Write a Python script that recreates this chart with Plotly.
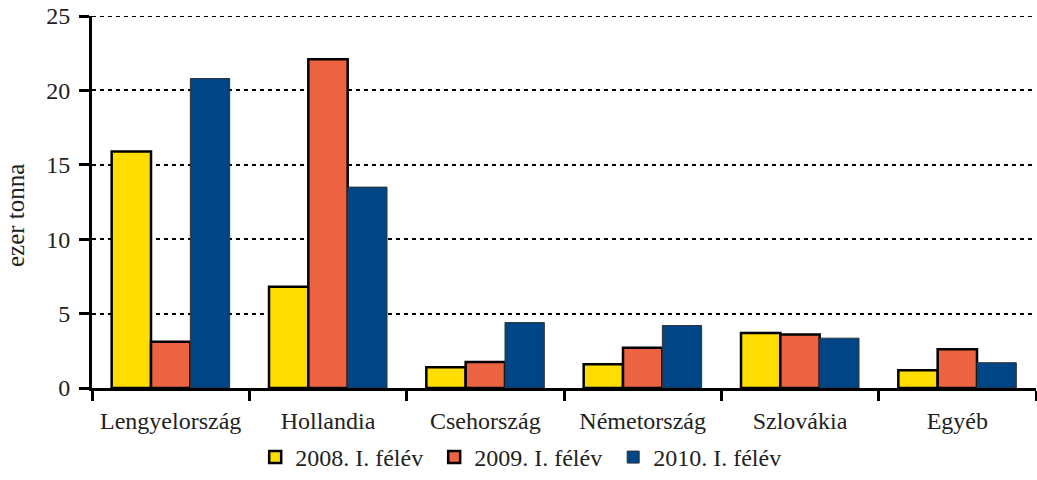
import plotly.graph_objects as go

categories = ["Lengyelország", "Hollandia", "Csehország", "Németország", "Szlovákia", "Egyéb"]
series_names = ["2008. I. félév", "2009. I. félév", "2010. I. félév"]
v2008 = [15.9, 6.8, 1.4, 1.6, 3.7, 1.2]
v2009 = [3.1, 22.1, 1.75, 2.7, 3.6, 2.6]
v2010 = [20.8, 13.5, 4.4, 4.2, 3.35, 1.7]
y_ticks = [0, 5, 10, 15, 20, 25]
y_title = "ezer tonna"

colors = ["#FFDD00", "#EB6341", "#004586"]
line_colors = ["#000000", "#000000", "#333333"]
line_widths = [2.5, 2.5, 1]

FONT = "Liberation Serif"

fig = go.Figure()
for name, vals, c, lc, lw in zip(series_names, [v2008, v2009, v2010], colors, line_colors, line_widths):
    fig.add_trace(go.Bar(x=categories, y=vals, name=name,
                         marker=dict(color=c, line=dict(color=lc, width=lw))))

# top gridline (plotly hides the grid line at the range edge)
fig.add_shape(type="line", xref="paper", x0=0, x1=1, yref="y", y0=y_ticks[-1], y1=y_ticks[-1],
              line=dict(color="black", width=2, dash="4px,4px"), layer="below")

# y-axis title as annotation for precise placement
fig.add_annotation(text=y_title, textangle=-90, xref="paper", yref="paper",
                   x=0, y=0.5, xanchor="center", yanchor="middle",
                   xshift=-77, yshift=-14, showarrow=False,
                   font=dict(family=FONT, size=25, color="#222222"))

fig.update_layout(
    width=1037, height=480,
    barmode="group", bargap=0.25, bargroupgap=0,
    plot_bgcolor="white", paper_bgcolor="white",
    margin=dict(l=92, r=1, t=16, b=92, autoexpand=False),
    font=dict(family=FONT, size=24, color="#222222"),
    showlegend=True,
    legend=dict(orientation="h", xref="container", x=0.505, xanchor="center",
                yref="container", y=0.0, yanchor="bottom",
                font=dict(family=FONT, size=24), traceorder="normal",
                itemwidth=30, entrywidth=134, entrywidthmode="pixels"),
    xaxis=dict(showline=True, linecolor="black", linewidth=3, automargin=False,
               ticks="outside", tickson="boundaries", ticklen=10, tickwidth=3, tickcolor="black",
               ticklabelstandoff=9,
               showgrid=False, tickfont=dict(family=FONT, size=24)),
    yaxis=dict(range=[0, 25], tickvals=y_ticks, showline=True, linecolor="black", linewidth=3,
               automargin=False, ticklabeloverflow="allow",
               ticks="outside", ticklen=10, tickwidth=3, tickcolor="black",
               ticklabelstandoff=4,
               showgrid=True, gridcolor="black", gridwidth=2, griddash="4px,4px",
               zeroline=False,
               tickfont=dict(family=FONT, size=24)),
)

fig.write_html("out.html", config={"displayModeBar": False},
               post_script="document.body.style.margin='0';")
